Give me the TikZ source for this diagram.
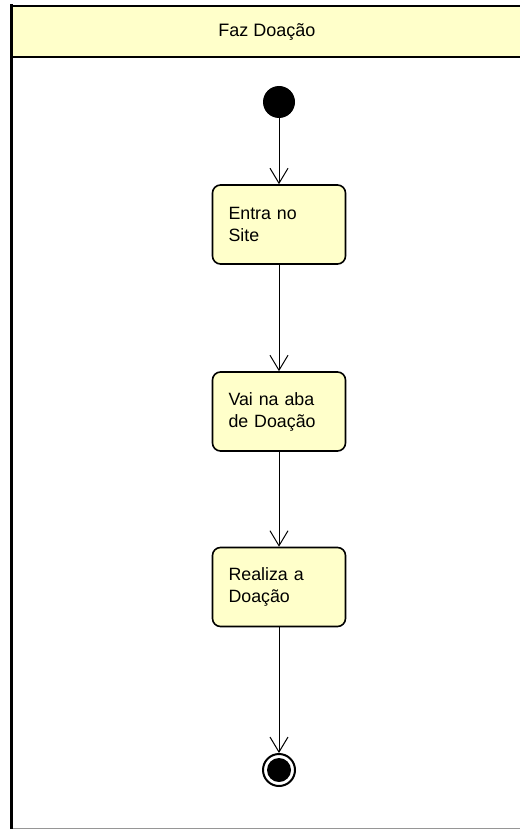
\documentclass[tikz,border=0pt]{standalone}
\usepackage{fontspec}
\setmainfont{Liberation Sans}
\usetikzlibrary{arrows.meta}
\definecolor{umlfill}{RGB}{255,255,202}
\definecolor{framegray}{RGB}{150,150,150}
\tikzset{
  actbox/.style={draw=black, line width=1.6pt, fill=umlfill, rounded corners=8pt,
    minimum width=133pt, minimum height=79pt, text width=101pt, inner xsep=16pt,
    align=left, font=\fontsize{17.8pt}{22pt}\selectfont},
  flow/.style={line width=1pt, -{Straight Barb[length=15pt,width=18pt,line width=1pt]}},
  startnode/.style={circle, fill=black, minimum size=32pt, inner sep=0pt},
  endnode/.style={circle, draw=black, line width=2pt, fill=white, minimum size=32pt, inner sep=0pt,
    path picture={\fill[black] (path picture bounding box.center) circle (12pt);}}
}
\begin{document}
\begin{tikzpicture}[x=1pt,y=-1pt]
\useasboundingbox (0,0) rectangle (520,829);
% swimlane frame
\fill[umlfill] (11,6) rectangle (520,57);
\draw[framegray, line width=1pt] (11,828.5) -- (520,828.5);
\draw[black, line width=2pt] (10,6) -- (520,6);
\draw[black, line width=2pt] (10,57) -- (520,57);
\draw[black, line width=3pt] (11,4.5) -- (11,829);
\node[font=\fontsize{18pt}{20pt}\selectfont] (title) at (267,32) {Faz Doação};
% nodes
\node[startnode] (init) at (279,102) {};
\node[actbox] (a1) at (279,224.5) {Entra no\\Site};
\node[actbox] (a2) at (279,411.5) {Vai na aba\\de Doação};
\node[actbox] (a3) at (279,587) {Realiza a\\Doação};
\node[endnode] (fin) at (279,770) {};
% flows
\draw[flow] (init) -- (a1);
\draw[flow] (a1) -- (a2);
\draw[flow] (a2) -- (a3);
\draw[flow] (a3) -- (fin);
\end{tikzpicture}
\end{document}
